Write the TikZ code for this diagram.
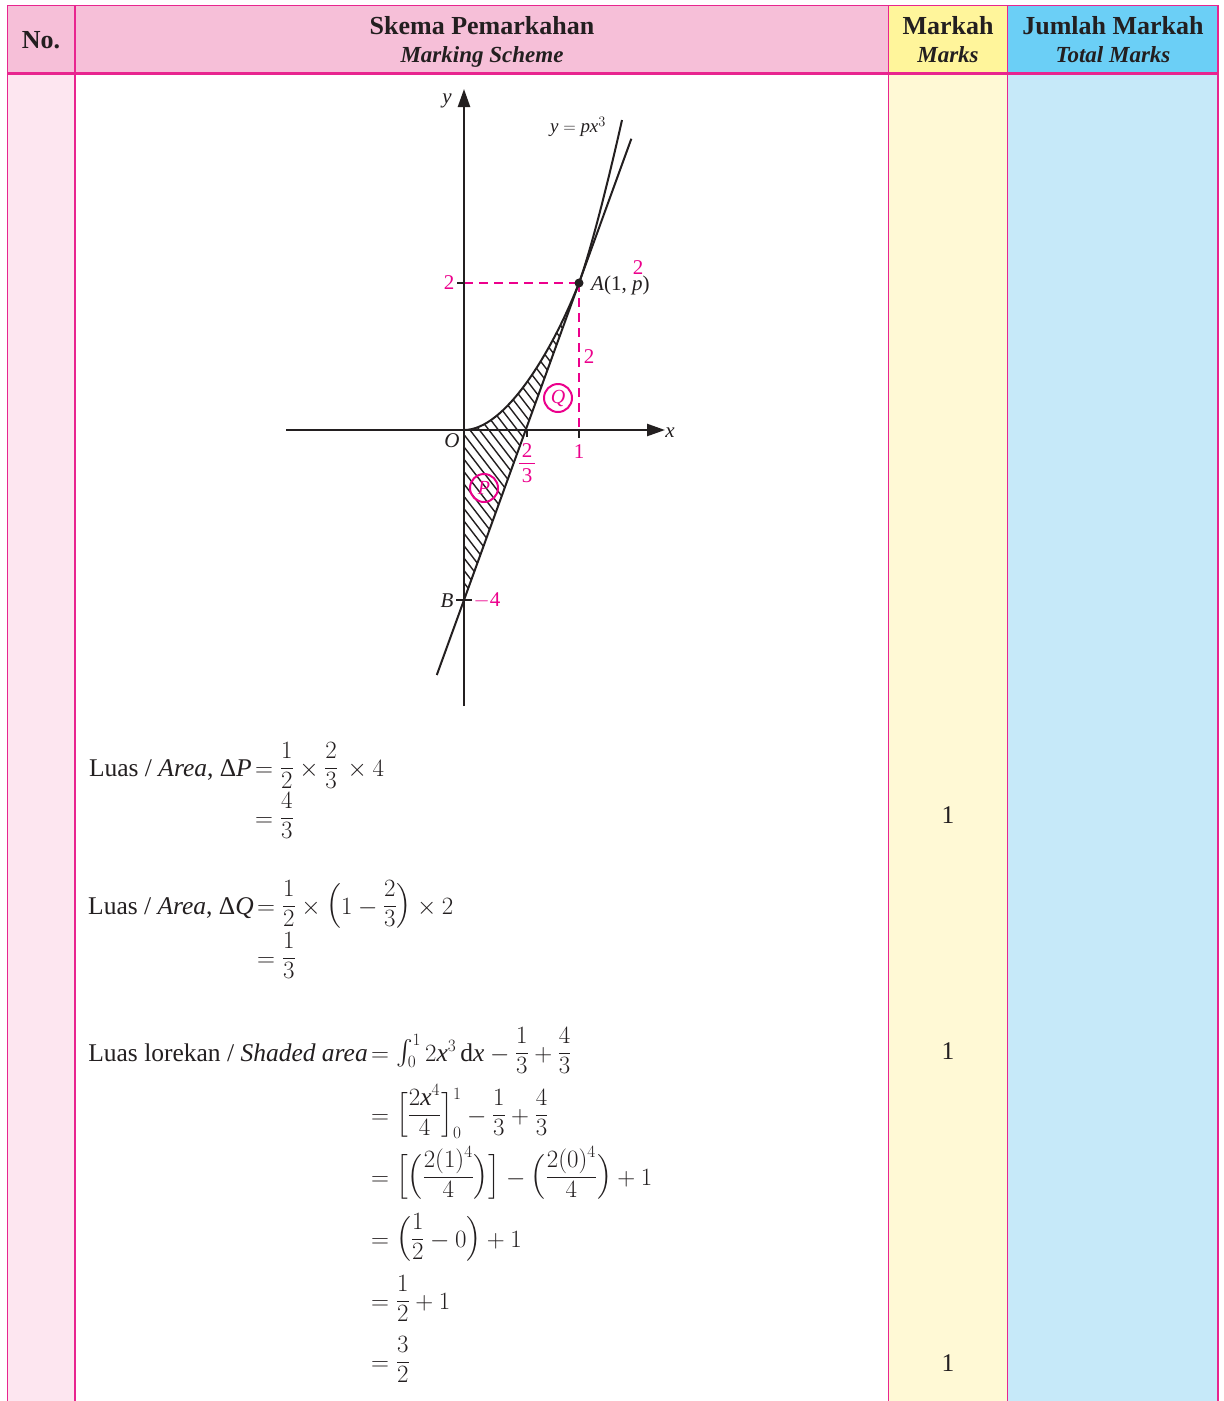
\documentclass[tikz,border=0pt]{standalone}
\usepackage{amsmath}
\usepackage{fontspec}
\setmainfont{Liberation Serif}
\setmathrm{Liberation Serif}
\DeclareSymbolFont{libdig}{TU}{\rmdefault}{m}{n}
\DeclareMathSymbol{0}{\mathalpha}{libdig}{`0}
\DeclareMathSymbol{1}{\mathalpha}{libdig}{`1}
\DeclareMathSymbol{2}{\mathalpha}{libdig}{`2}
\DeclareMathSymbol{3}{\mathalpha}{libdig}{`3}
\DeclareMathSymbol{4}{\mathalpha}{libdig}{`4}
\DeclareMathSymbol{=}{\mathrel}{libdig}{`=}
\DeclareMathSymbol{+}{\mathbin}{libdig}{`+}
\DeclareMathSymbol{(}{\mathopen}{libdig}{`(}
\DeclareMathSymbol{)}{\mathclose}{libdig}{`)}
\usetikzlibrary{arrows.meta,calc}
\newcommand\mi[1]{\textit{#1}}
\newcommand\mt{\fontdimen8\textfont2=18pt\fontdimen11\textfont2=12.5pt\fontdimen22\textfont2=8pt\relax}
\definecolor{ink}{HTML}{231F20}
\definecolor{mag}{HTML}{EC008C}
\definecolor{bordermag}{HTML}{E8258F}
\definecolor{hpink}{HTML}{F6BFD8}
\definecolor{bpink}{HTML}{FDE6F0}
\definecolor{hyel}{HTML}{FFF59B}
\definecolor{byel}{HTML}{FFF9D5}
\definecolor{hcyan}{HTML}{6BCFF6}
\definecolor{bblue}{HTML}{C6E9F9}
\tikzset{
  tline/.style={draw=bordermag, line width=1.6pt},
  gline/.style={draw=ink, line width=2pt},
  axisline/.style={draw=ink, line width=2.4pt, -{Triangle[length=18pt,width=12pt]}},
  tickline/.style={draw=ink, line width=1.8pt},
  hatchline/.style={draw=ink, line width=1.4pt},
  mdash/.style={draw=mag, line width=2.2pt, dash pattern=on 9pt off 6pt},
  mlab/.style={text=mag, font=\fontsize{21}{23}\selectfont, inner sep=0pt},
  glab/.style={text=ink, font=\fontsize{21}{23}\selectfont\itshape, inner sep=0pt},
  bodytxt/.style={text=ink, font=\fontsize{25.5}{28}\selectfont, inner sep=0pt},
  hdone/.style={text=ink, font=\fontsize{26}{28}\selectfont\bfseries, inner sep=0pt, anchor=base},
  hdtwo/.style={text=ink, font=\fontsize{23}{26}\selectfont\bfseries\itshape, inner sep=0pt, anchor=base},
  circlab/.style={draw=mag, line width=2pt, circle, minimum size=28pt, inner sep=0pt, text=mag, font=\fontsize{20}{22}\selectfont\itshape},
}
\begin{document}
\begin{tikzpicture}[x=1pt,y=-1pt]
\useasboundingbox (0,0) rectangle (1224,1401);
% ---------- table backgrounds ----------
\fill[hpink] (7.5,5.5) rectangle (888.5,73.5);
\fill[hyel] (888.5,5.5) rectangle (1007.5,73.5);
\fill[hcyan] (1007.5,5.5) rectangle (1218,73.5);
\fill[bpink] (7.5,73.5) rectangle (75,1401);
\fill[white] (75,73.5) rectangle (888.5,1401);
\fill[byel] (888.5,73.5) rectangle (1007.5,1401);
\fill[bblue] (1007.5,73.5) rectangle (1218,1401);
% ---------- table lines ----------
\draw[tline] (7.5,1401) -- (7.5,5.5) -- (1218,5.5) -- (1218,1401);
\draw[tline] (75,5.5) -- (75,1401);
\draw[tline] (888.5,5.5) -- (888.5,1401);
\draw[tline] (1007.5,5.5) -- (1007.5,1401);
\draw[tline, line width=2.6pt] (7.5,73.5) -- (1218,73.5);
% ---------- header ----------
\node[hdone] (hno) at (41,48.5) {No.};
\node[hdone] (hskema) at (482,34) {Skema Pemarkahan};
\node[hdtwo] (hscheme) at (482,62.5) {Marking Scheme};
\node[hdone] (hmarkah) at (948,34) {Markah};
\node[hdtwo] (hmarks) at (948,62.5) {Marks};
\node[hdone] (hjumlah) at (1113,34) {Jumlah Markah};
\node[hdtwo] (htotal) at (1113,62.5) {Total Marks};
% ---------- graph ----------
\coordinate (O) at (464,430);
\coordinate (A) at (579,283);
\coordinate (B) at (464,600);
\coordinate (X23) at ($(B)!0.5363!(A)$);
\coordinate (Lbot) at ($(B)!-0.2366!(A)$);
\coordinate (Ltop) at ($(B)!1.455!(A)$);
\coordinate (Ctop) at (622,120);
% hatching P
\begin{scope}
  \clip (O) -- (X23) -- (B) -- cycle;
  \foreach \s in {170,179.5,...,600} \draw[hatchline] (\s,250) -- ++(400,520);
\end{scope}
% hatching Q
\begin{scope}
  \clip (O) .. controls (505,430) and (552,352) .. (A) -- (X23) -- cycle;
  \foreach \s in {170,179.5,...,600} \draw[hatchline] (\s,250) -- ++(400,520);
\end{scope}
% dashed guides
\draw[mdash] (464,283) -- (A);
\draw[mdash] (A) -- (579,430);
% axes
\draw[axisline] (286,430) -- (665,430);
\draw[axisline] (464,706) -- (464,89);
% ticks
\draw[tickline] (457,283) -- (464,283);
\draw[tickline] (527,430) -- (527,437);
\draw[tickline] (579,430) -- (579,438);
\draw[tickline] (456,600) -- (472,600);
% curve and line
\draw[gline] (O) .. controls (505,430) and (552,352) .. (A)
             .. controls (592.6,245.4) and (612,165) .. (Ctop);
\draw[gline] (Lbot) -- (Ltop);
\fill[ink] (A) circle (4.5pt);
% labels
\node[glab] (ylab) at (447,101) {y};
\node[glab] (xlab) at (670,433) {x};
\node[glab] (olab) at (452,441) {O};
\node[glab] (blab) at (447,601) {B};
\node[text=ink, font=\fontsize{19}{21}\selectfont, inner sep=0pt] (curvelab) at (578,127) {$\mi{y} = \mi{px}^{3}$};
\node[text=ink, font=\fontsize{21}{23}\selectfont, inner sep=0pt, anchor=base west] (alab) at (591,290) {\textit{A}(1, \textit{p})};
\node[mlab] (ptwo) at (638,268) {2};
\node[mlab] (ytwo) at (449,283) {2};
\node[mlab] (vtwo) at (589,357) {2};
\node[mlab] (xone) at (579,452) {1};
\node[mlab] (xtn) at (527,451) {2};
\node[mlab] (xtd) at (527,476) {3};
\draw[draw=mag, line width=1.3pt] (519,463.5) -- (535,463.5);
\node[mlab] (mfour) at (487,600) {$-$4};
\node[circlab] (qc) at (558,398) {Q};
\node[circlab] (pc) at (484,488) {P};
% ---------- working ----------
\node[bodytxt, anchor=base east] (l1) at (252,776) {Luas / \textit{Area}, Δ\textit{P}};
\node[bodytxt, anchor=base west] (r1) at (255,776) {$\mt = \dfrac{1}{2} \times \dfrac{2}{3}\, \times 4$};
\node[bodytxt, anchor=base west] (r2) at (255,826) {$\mt = \dfrac{4}{3}$};
\node[bodytxt, anchor=base east] (l3) at (254,914) {Luas / \textit{Area}, Δ\textit{Q}};
\node[bodytxt, anchor=base west] (r3) at (257,914) {$\mt = \dfrac{1}{2} \times \Bigl(1 - \dfrac{2}{3}\Bigr) \times 2$};
\node[bodytxt, anchor=base west] (r4) at (257,966) {$\mt = \dfrac{1}{3}$};
\node[bodytxt, anchor=base east] (l5) at (368,1061) {Luas lorekan / \textit{Shaded area}};
\node[bodytxt, anchor=base west] (r5) at (371,1061) {$\mt = \textstyle\int_{0}^{1} 2\mi{x}^{3}\,\mathrm{d}\mi{x} - \dfrac{1}{3} + \dfrac{4}{3}$};
\node[bodytxt, anchor=base west] (r6) at (371,1123) {$\mt = \Bigl[\dfrac{2\mi{x}^{4}}{4}\Bigr]_{0}^{1} - \dfrac{1}{3} + \dfrac{4}{3}$};
\node[bodytxt, anchor=base west] (r7) at (371,1185) {$\mt = \Bigl[\Bigl(\dfrac{2(1)^{4}}{4}\Bigr)\Bigr] - \Bigl(\dfrac{2(0)^{4}}{4}\Bigr) + 1$};
\node[bodytxt, anchor=base west] (r8) at (371,1247) {$\mt = \Bigl(\dfrac{1}{2} - 0\Bigr) + 1$};
\node[bodytxt, anchor=base west] (r9) at (371,1309) {$\mt = \dfrac{1}{2} + 1$};
\node[bodytxt, anchor=base west] (r10) at (371,1370) {$\mt = \dfrac{3}{2}$};
% marks
\node[bodytxt, anchor=base] (m1) at (948,823) {1};
\node[bodytxt, anchor=base] (m2) at (948,1059) {1};
\node[bodytxt, anchor=base] (m3) at (948,1371) {1};
\end{tikzpicture}
\end{document}
